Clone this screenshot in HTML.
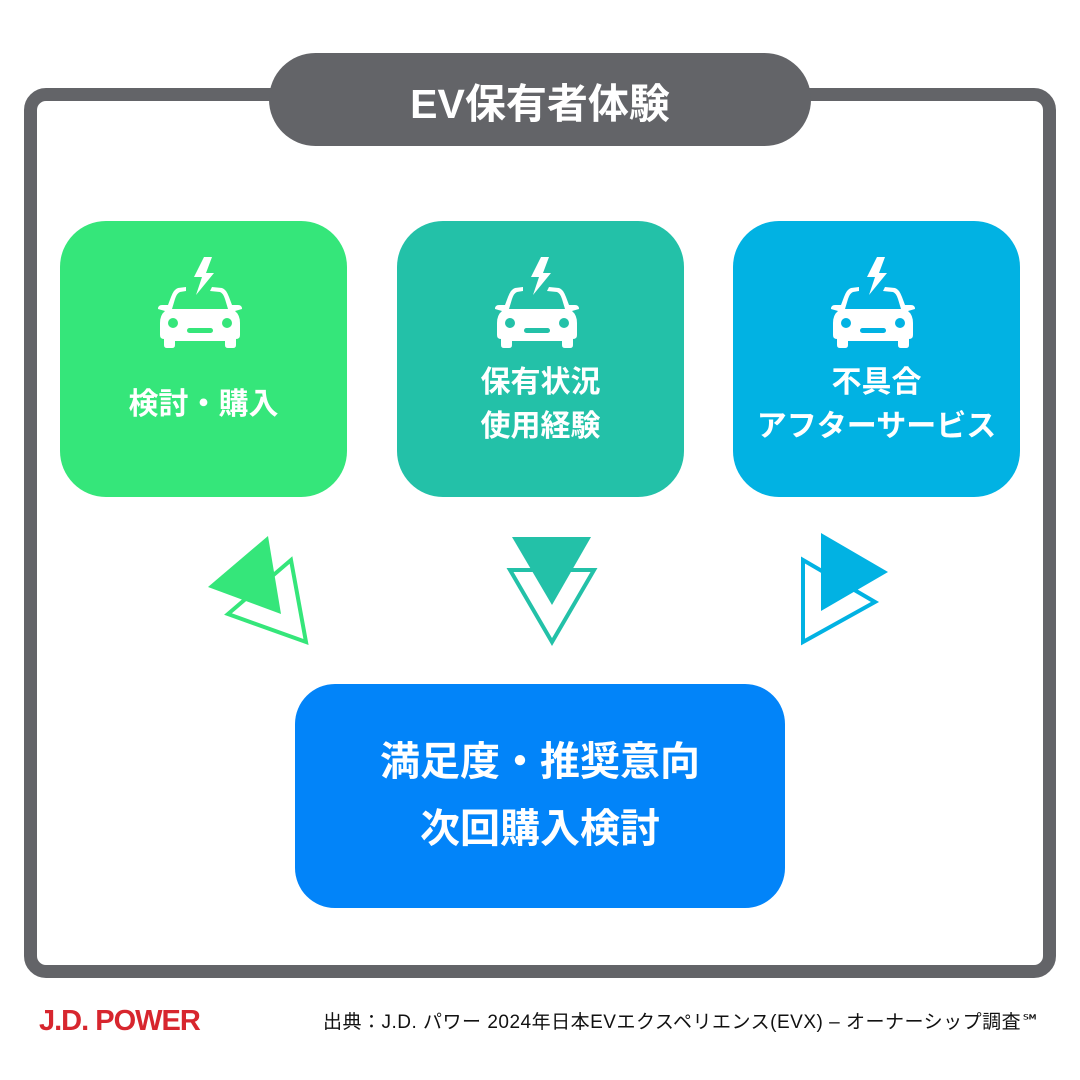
<!DOCTYPE html>
<html><head><meta charset="utf-8"><style>
body{margin:0;width:1080px;height:1080px;background:#fff;position:relative;overflow:hidden;font-family:"Liberation Sans","Noto Sans CJK JP",sans-serif}
.frame{position:absolute;left:24px;top:88px;width:1006px;height:864px;border:13px solid #636468;border-radius:22px}
.pill{position:absolute;left:269px;top:53px;width:542px;height:93px;border-radius:47px;background:#636468;color:#fff;font-weight:bold;font-size:41px;display:flex;align-items:center;justify-content:center}
.box{position:absolute;top:221px;width:287px;height:276px;border-radius:46px;color:#fff;font-weight:bold;font-size:30px;line-height:44px;text-align:center}
.box svg{position:absolute;left:96px;top:32px}
.box .t{position:absolute;left:0;right:0;top:0;height:100%;display:flex;align-items:center;justify-content:center;padding-top:142px;box-sizing:border-box;}
.t span{position:relative;top:-25px;white-space:nowrap}
.big{position:absolute;left:295px;top:684px;width:490px;height:224px;border-radius:40px;background:#0284F9;color:#fff;font-weight:bold;font-size:40px;line-height:67px;text-align:center;display:flex;align-items:center;justify-content:center}
.jd{position:absolute;left:39px;top:1005px;color:#D7262E;font-weight:bold;font-size:29px;letter-spacing:-1px}
.src{position:absolute;left:323px;top:1007px;font-size:19px;color:#111;white-space:nowrap;letter-spacing:0.5px}
</style></head><body>
<div class="frame"></div>
<div class="pill">EV保有者体験</div>
<svg width="0" height="0" style="position:absolute"><defs>
<g id="car" fill="#fff">
<polygon points="48,4 38,24 46,24 40,42 58,20 50,20 56,4"/>
<path d="M30,34 L22,35 Q18,36 15,44 L12,52 L6,52 Q2,52 2,56 L9,58 Q4,62 4,70 L4,82 Q4,86 8,86 L8,92 Q8,95 11,95 L16,95 Q19,95 19,92 L19,88 L69,88 L69,92 Q69,95 72,95 L77,95 Q80,95 80,92 L80,86 Q84,86 84,82 L84,70 Q84,62 79,58 L86,56 Q86,52 82,52 L76,52 L73,44 Q70,36 66,35 L56,34 L54,38 L64,39 Q67,40 69,46 L72,56 L16,56 L19,46 Q21,40 24,39 L30,38 Z"/>
</g></defs></svg>
<div class="box" style="left:60px;background:#35E67A">
<svg width="90" height="100" viewBox="0 0 90 100"><use href="#car"/><circle cx="17" cy="70" r="5" fill="#35E67A"/><circle cx="71" cy="70" r="5" fill="#35E67A"/><rect x="31" y="75" width="26" height="5" rx="2.5" fill="#35E67A"/></svg>
<div class="t"><span>検討・購入</span></div></div>
<div class="box" style="left:397px;background:#23C1A8">
<svg width="90" height="100" viewBox="0 0 90 100"><use href="#car"/><circle cx="17" cy="70" r="5" fill="#23C1A8"/><circle cx="71" cy="70" r="5" fill="#23C1A8"/><rect x="31" y="75" width="26" height="5" rx="2.5" fill="#23C1A8"/></svg>
<div class="t"><span>保有状況<br>使用経験</span></div></div>
<div class="box" style="left:733px;background:#01B2E3">
<svg width="90" height="100" viewBox="0 0 90 100"><use href="#car"/><circle cx="17" cy="70" r="5" fill="#01B2E3"/><circle cx="71" cy="70" r="5" fill="#01B2E3"/><rect x="31" y="75" width="26" height="5" rx="2.5" fill="#01B2E3"/></svg>
<div class="t"><span>不具合<br>アフターサービス</span></div></div>
<svg style="position:absolute;left:0;top:0" width="1080" height="1080">
<polygon points="291,560 228,614 306,642" fill="#fff" stroke="#35E67A" stroke-width="4"/>
<polygon points="268,536 208,587 281,614" fill="#35E67A"/>
<polygon points="510,570 594,570 552,642" fill="#fff" stroke="#23C1A8" stroke-width="4"/>
<polygon points="512,537 591,537 552,605" fill="#23C1A8"/>
<polygon points="803,560 875,602 803,642" fill="#fff" stroke="#01B2E3" stroke-width="4"/>
<polygon points="821,533 888,572 821,611" fill="#01B2E3"/>
</svg>
<div class="big"><div>満足度・推奨意向<br>次回購入検討</div></div>
<div class="jd">J.D. POWER</div>
<div class="src">出典：J.D. パワー 2024年日本EVエクスペリエンス(EVX) – オーナーシップ調査℠</div>
</body></html>
